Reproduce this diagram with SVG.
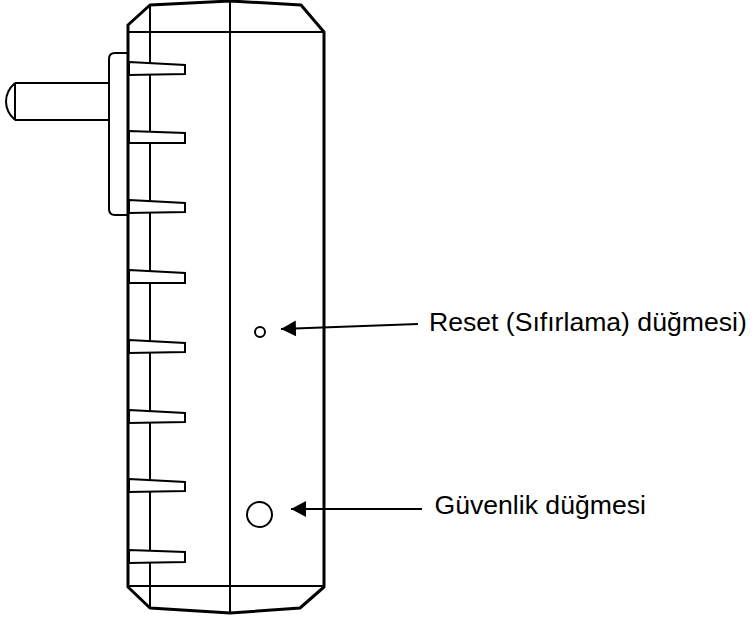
<svg xmlns="http://www.w3.org/2000/svg" width="755" height="617" viewBox="0 0 755 617">
<style>
.o{fill:none;stroke:#000;stroke-linejoin:round}
.b{stroke-width:3}
.m{stroke-width:2}
.t{fill:#fff;stroke:#000;stroke-width:2}
.a{fill:none;stroke:#000;stroke-width:2}
.l{font-family:"Liberation Sans",Arial,sans-serif;font-size:26.6px;fill:#000}
</style>
<defs>
<marker id="arrow" markerUnits="userSpaceOnUse" markerWidth="16" markerHeight="18" refX="15" refY="8" orient="auto"><path d="M0 0L15 8L0 16Z" fill="#000"/></marker>
</defs>
<rect width="755" height="617" fill="#fff"/>
<g id="plug">
<path class="o m" d="M15 83H109M15 120H109M15 83V120M15 83Q6 91 6 101.500Q6 112 15 120"/>
<path class="o m" d="M127 53H115Q109 53 109 59V209Q109 215 115 215H127" style="fill:#fff"/>
</g>
<g id="body">
<path class="o m" d="M128 32H324M128 586H324M150 5V608M230 1V613"/>
<path class="o b" d="M128 25L150 5L230 1L301 5L324 32V587L300 608L230 613L150 608L128 587Z"/>
</g>
<g id="tabs">
<path class="t" d="M129 62L185 65V74L129 75Z"/>
<path class="t" d="M129 131L185 133V143L129 143Z"/>
<path class="t" d="M129 200L185 203V212L129 213Z"/>
<path class="t" d="M129 270L185 273V283L129 283Z"/>
<path class="t" d="M129 340L185 343V352L129 353Z"/>
<path class="t" d="M129 410L185 413V422L129 423Z"/>
<path class="t" d="M129 479L185 482V491L129 492Z"/>
<path class="t" d="M129 550L185 552V562L129 563Z"/>
</g>
<g id="reset-button"><circle cx="260" cy="332" r="5" class="o m"/></g>
<g id="security-button"><circle cx="259.500" cy="514.500" r="12.500" class="o m"/></g>
<g id="connectors">
<path class="a" marker-end="url(#arrow)" d="M418 324L281 329"/>
<path class="a" marker-end="url(#arrow)" d="M422 509H291"/>
</g>
<g id="label-reset"><text class="l" x="429" y="331">Reset (Sıfırlama) düğmesi)</text></g>
<g id="label-security"><text class="l" x="434.500" y="514">Güvenlik düğmesi</text></g>
</svg>
